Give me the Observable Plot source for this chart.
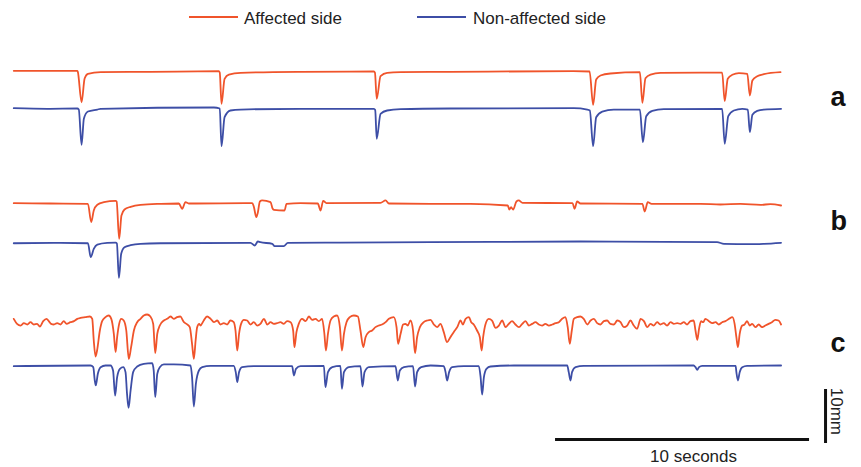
<!DOCTYPE html>
<html><head><meta charset="utf-8">
<script src="https://cdn.jsdelivr.net/npm/d3@7"></script>
<script src="https://cdn.jsdelivr.net/npm/@observablehq/plot@0.6"></script>
<style>
body{margin:0;background:#fff;font-family:"Liberation Sans",Arial,Helvetica,sans-serif;}
#wrap{width:861px;}
#legend{position:relative;height:32px;}
.sw{position:absolute;top:15.5px;height:2.6px;width:49px;}
.lt{position:absolute;top:10px;font-size:17px;line-height:17px;color:#222;white-space:nowrap;}
</style></head><body>
<div id="wrap"><div id="legend"></div><div id="chart"></div></div>
<script>
// ---- data: time (s), lid displacement (mm, 0 = trace baseline) ----
const groups = ["a", "b", "c"];
const sides = ["Affected side", "Non-affected side"];
const sideColors = ["#f0542b", "#3d4ea6"];
const scaleBarSeconds = 10;
const scaleBarMm = 10;
const scaleBarLabels = ["10 seconds", "10mm"];

const aAffected = [[0.01,0.13],[2.51,0.13],[2.53,0],[2.68,-5.69],[2.80,-1.30],[2.93,-0.43],[3.43,-0.13],[5.39,-0.06],[8.08,0.06],[8.12,-0.19],[8.19,-5.98],[8.31,-1.35],[8.48,-0.56],[8.94,-0.24],[11.30,-0.06],[14.19,0],[14.23,-0.19],[14.30,-5.06],[14.45,-0.87],[14.71,-0.24],[15.24,-0.13],[17.20,-0.06],[22.05,0.06],[22.68,0],[22.82,-6.17],[22.94,-1.48],[23.11,-0.74],[23.50,-0.37],[24.66,-0.13],[24.76,-5.80],[24.88,-1.24],[25.08,-0.56],[25.47,-0.24],[27.05,-0.19],[27.90,-0.19],[28.00,-5.50],[28.12,-1.35],[28.30,-0.61],[28.56,-0.31],[28.89,-0.43],[28.99,-4.44],[29.09,-1.67],[29.28,-0.87],[29.54,-0.50],[30.20,-0.13]];

const aNonAffected = [[0.01,0.06],[1.33,-0.06],[2.51,0],[2.57,-0.19],[2.68,-6.72],[2.77,-1.91],[2.93,-0.56],[3.30,-0.19],[3.43,-0.06],[7.89,0.19],[8.12,0],[8.19,-6.98],[8.31,-1.61],[8.54,-0.37],[8.94,-0.19],[11.30,-0.06],[14.19,-0.06],[14.24,-0.28],[14.30,-5.61],[14.45,-0.98],[14.71,-0.37],[15.24,-0.13],[17.20,0],[22.06,0.06],[22.59,-0.19],[22.69,-0.37],[22.82,-6.98],[22.94,-1.61],[23.18,-0.56],[23.63,-0.19],[24.66,-0.19],[24.78,-6.24],[24.91,-1.43],[25.15,-0.43],[25.60,-0.13],[27.90,-0.06],[28.00,-6.54],[28.14,-1.43],[28.36,-0.37],[28.69,-0.06],[28.91,-0.19],[28.99,-4.39],[29.09,-1.17],[29.28,-0.43],[29.54,-0.19],[30.22,-0.06]];

const bAffected = [[0.01,0.06],[1.46,0],[2.93,-0.06],[3.06,-3.46],[3.16,-1.30],[3.30,-0.24],[3.56,0.24],[4.02,0.50],[4.06,0.37],[4.16,-6.54],[4.25,-2.22],[4.37,-1.11],[4.61,-0.61],[5.00,-0.24],[5.79,-0.06],[6.51,0],[6.64,-0.98],[6.77,0.24],[6.90,0],[9.40,0.06],[9.46,-0.56],[9.56,-2.54],[9.62,-1.67],[9.70,0.37],[9.79,0.56],[10.12,0.24],[10.20,-0.93],[10.25,-1.17],[10.67,-1.30],[10.75,-0.06],[11.30,0.06],[11.98,0],[12.09,-1.30],[12.19,0.50],[12.32,0.06],[14.45,0.13],[14.65,0.56],[14.78,0],[16.42,-0.06],[17.99,-0.06],[19.46,-0.37],[19.52,-1.11],[19.59,-0.69],[19.67,-1.11],[19.80,0.37],[19.89,0.56],[20.04,0.13],[22.01,0.06],[22.09,-0.98],[22.19,0.37],[22.32,0],[24.76,-0.06],[24.85,-1.48],[24.97,0.24],[25.12,-0.06],[27.05,-0.06],[27.83,-0.19],[28.62,-0.06],[29.41,-0.24],[29.80,-0.13],[30.22,-0.37]];

const bNonAffected = [[0.01,-0.04],[1.85,0.04],[2.93,-0.04],[3.04,-2.63],[3.16,-1.07],[3.30,-0.28],[3.69,0.04],[4.02,0.09],[4.07,-0.09],[4.15,-6.44],[4.24,-2.00],[4.37,-0.78],[4.61,-0.41],[5.00,-0.15],[5.79,-0.04],[9.33,0.04],[9.50,-0.46],[9.62,0.28],[9.72,0.15],[10.19,-0.15],[10.28,-0.59],[10.64,-0.59],[10.80,0.04],[12.87,0.09],[16.42,0.15],[22.32,0.28],[27.70,0.15],[27.97,-0.15],[29.02,-0.22],[29.54,-0.15],[30.22,0.04]];

const cAffected = [[0.01,0.68],[0.14,-0.25],[0.28,-0.56],[0.41,-0.12],[0.54,-0.37],[0.67,0.06],[0.80,-0.37],[0.93,-0.25],[1.04,-0.74],[1.17,0.25],[1.30,0.68],[1.39,0.25],[1.48,-0.25],[1.59,-0.37],[1.72,-0.12],[1.85,-0.37],[1.98,0.25],[2.09,-0.25],[2.24,0.06],[2.38,0.25],[2.51,0.68],[2.64,0.86],[2.83,0.99],[3.01,1.11],[3.10,0.68],[3.16,-3.33],[3.23,-6.30],[3.29,-5.19],[3.40,-1.48],[3.49,0.25],[3.62,0.99],[3.75,1.30],[3.85,0.68],[3.95,-2.10],[4.02,-5.49],[4.08,-2.72],[4.16,-0.25],[4.24,0.68],[4.34,0.37],[4.44,-1.48],[4.54,-6.73],[4.63,-4.57],[4.74,-1.48],[4.87,0.06],[5.00,0.68],[5.13,1.30],[5.26,1.48],[5.39,1.11],[5.50,-0.25],[5.58,-5.68],[5.66,-2.10],[5.76,-0.56],[5.92,0.37],[6.05,0.68],[6.18,1.11],[6.31,0.68],[6.44,0.99],[6.57,1.11],[6.71,0.06],[6.81,-0.25],[6.94,-0.86],[7.03,-3.95],[7.10,-6.73],[7.17,-3.33],[7.23,-0.86],[7.31,-0.25],[7.36,-0.56],[7.49,0.37],[7.62,1.11],[7.76,0.68],[7.89,0.06],[8.02,0.37],[8.15,-0.37],[8.28,-0.12],[8.41,-0.37],[8.54,0.37],[8.67,0.06],[8.74,-1.48],[8.81,-5.19],[8.88,-2.10],[8.96,-0.25],[9.07,0.49],[9.20,0.37],[9.33,-0.37],[9.46,0.06],[9.59,-0.56],[9.72,-0.25],[9.86,0.68],[9.99,-0.37],[10.12,0.06],[10.25,-0.25],[10.38,-0.12],[10.51,0.06],[10.64,-0.25],[10.77,0.25],[10.91,0.06],[11.01,-1.48],[11.06,-4.57],[11.14,-1.79],[11.23,-0.25],[11.36,0.68],[11.50,0.25],[11.63,1.11],[11.76,0.49],[11.89,0.68],[12.02,0.25],[12.15,0.68],[12.24,-2.10],[12.30,-5.19],[12.38,-2.10],[12.48,0.37],[12.61,1.11],[12.74,1.30],[12.85,-0.86],[12.93,-5.19],[13.01,-2.10],[13.11,0.06],[13.24,0.99],[13.40,1.30],[13.56,1.11],[13.66,-1.48],[13.77,-4.57],[13.86,-2.72],[13.99,-1.79],[14.12,-1.48],[14.25,-0.86],[14.38,-0.56],[14.51,-0.37],[14.65,0.06],[14.78,0.68],[14.97,0.99],[15.08,-0.86],[15.14,-3.95],[15.24,-2.10],[15.34,-0.37],[15.43,-0.25],[15.52,-0.56],[15.63,0.37],[15.73,-1.48],[15.81,-5.68],[15.89,-2.72],[16.00,-0.86],[16.15,0.06],[16.29,0.37],[16.42,0.50],[16.55,-0.37],[16.68,-0.86],[16.81,-0.25],[16.94,-1.79],[17.07,-3.64],[17.20,-2.72],[17.33,-1.79],[17.47,-0.86],[17.60,0.37],[17.69,-0.37],[17.80,0.68],[17.93,0.99],[18.02,0.06],[18.12,-0.37],[18.25,-1.48],[18.36,-2.72],[18.43,-5.19],[18.49,-2.72],[18.58,-0.37],[18.71,0.68],[18.84,0.37],[18.98,-0.99],[19.11,-0.56],[19.24,0.37],[19.37,-0.86],[19.50,-0.25],[19.63,0.25],[19.76,-0.37],[19.90,-0.86],[20.03,-0.25],[20.16,0.25],[20.29,-0.56],[20.42,-0.25],[20.55,0.06],[20.68,-0.37],[20.81,-0.56],[20.94,-0.25],[21.08,-0.56],[21.21,-0.37],[21.34,-0.12],[21.47,0.06],[21.60,0.68],[21.73,0.99],[21.82,-0.86],[21.90,-3.95],[21.98,-1.48],[22.06,0.68],[22.19,0.99],[22.32,1.11],[22.45,0.68],[22.59,-0.37],[22.72,0.37],[22.85,0.68],[22.98,-0.12],[23.11,-0.37],[23.24,0.25],[23.37,0.37],[23.50,-0.25],[23.64,-0.37],[23.77,0.37],[23.90,0.06],[24.03,-0.86],[24.16,-0.56],[24.29,0.37],[24.42,-0.56],[24.55,-1.17],[24.69,0.68],[24.82,0.25],[24.95,-0.86],[25.08,-0.25],[25.21,-0.56],[25.34,0.06],[25.47,-0.37],[25.60,-0.12],[25.73,-0.56],[25.87,0.06],[26.00,-0.25],[26.13,-0.12],[26.26,-0.25],[26.39,0.06],[26.52,-0.37],[26.65,0.25],[26.78,0.37],[26.85,-1.48],[26.92,-3.21],[26.99,-1.17],[27.07,0.25],[27.15,0.06],[27.24,0.68],[27.38,0.25],[27.51,-0.12],[27.64,0.06],[27.77,-0.37],[27.90,0.06],[28.03,0.25],[28.17,0.68],[28.30,0.99],[28.39,-0.25],[28.46,-2.72],[28.52,-4.57],[28.59,-2.10],[28.69,-0.56],[28.78,-0.37],[28.88,0.25],[28.99,-0.56],[29.08,-0.25],[29.21,-0.86],[29.34,-0.37],[29.47,-0.86],[29.60,-0.56],[29.73,-0.25],[29.86,0.06],[29.99,0.49],[30.12,0.37],[30.22,-0.37]];

const cNonAffected = [[0.01,-0.12],[3.03,0],[3.14,-0.31],[3.20,-2.78],[3.24,-3.70],[3.32,-1.54],[3.43,-0.31],[3.62,0],[3.82,0],[3.92,-0.93],[4.00,-5.56],[4.08,-2.16],[4.19,-0.62],[4.32,-0.31],[4.41,-1.23],[4.47,-5.25],[4.53,-7.84],[4.61,-4.63],[4.71,-1.23],[4.87,-0.19],[5.13,0.31],[5.46,0.43],[5.52,-0.93],[5.58,-5.86],[5.66,-1.54],[5.76,-0.31],[5.92,0.19],[6.31,0.19],[6.97,0],[7.03,-2.16],[7.10,-7.59],[7.18,-3.40],[7.30,-0.93],[7.43,-0.31],[7.76,-0.06],[8.67,-0.06],[8.75,-1.23],[8.81,-3.09],[8.88,-1.23],[9.00,-0.31],[9.46,-0.12],[10.97,-0.12],[11.04,-1.85],[11.12,-0.62],[11.30,-0.12],[12.22,-0.06],[12.28,-4.01],[12.38,-1.23],[12.55,-0.31],[12.87,-0.06],[12.93,-4.32],[13.01,-1.23],[13.20,-0.31],[13.66,-0.12],[13.74,-3.89],[13.82,-1.23],[13.99,-0.31],[15.04,-0.12],[15.13,-2.78],[15.21,-0.93],[15.37,-0.31],[15.73,-0.12],[15.81,-3.89],[15.89,-1.23],[16.05,-0.31],[16.42,0],[16.94,-0.12],[17.01,-1.23],[17.07,-2.78],[17.15,-1.23],[17.27,-0.31],[17.73,-0.12],[18.32,-0.12],[18.39,-2.16],[18.45,-5.37],[18.52,-2.16],[18.62,-0.62],[18.78,-0.19],[19.70,0],[21.80,0],[21.86,-1.23],[21.93,-2.78],[21.99,-1.23],[22.13,-0.31],[22.45,-0.06],[26.78,0],[26.85,-0.31],[26.92,-0.80],[26.99,-0.31],[27.11,-0.06],[28.43,-0.06],[28.46,-1.23],[28.52,-2.78],[28.59,-1.23],[28.69,-0.31],[28.88,-0.06],[30.22,0]];

// ---- layout (positions in scale units) ----
const layout = {
  width: 861, height: 435, marginLeft: 13,
  pxPerSecond: 25.4, pxPerMm: 5.4,
  baseline: {a: [73.33, 66.48], b: [48.89, 41.57], c: [26.85, 18.89]},
  labelBaseline: {a: 66.94, b: 43.89, c: 21.30},
  labelT: 32.17,
  hbar: {t0: 21.34, y: 5.19},
  vbar: {t: 31.97, y0: 4.44}
};

const series = {a: [aAffected, aNonAffected], b: [bAffected, bNonAffected], c: [cAffected, cNonAffected]};
const rows = [];
for (const g of groups) {
  sides.forEach((s, i) => {
    for (const [t, v] of series[g][i]) rows.push({group: g, side: s, key: g + i, t, y: layout.baseline[g][i] + v});
  });
}

// legend
const legend = document.getElementById("legend");
const legendPos = [[189, 244], [416.5, 473]];
sides.forEach((s, i) => {
  const sw = document.createElement("div");
  sw.className = "sw"; sw.style.left = legendPos[i][0] + "px"; sw.style.background = sideColors[i];
  const lt = document.createElement("div");
  lt.className = "lt"; lt.style.left = legendPos[i][1] + "px"; lt.textContent = s;
  legend.append(sw, lt);
});

const L = layout;
const hbar = [{x1: L.hbar.t0, x2: L.hbar.t0 + scaleBarSeconds, y: L.hbar.y}];
const vbar = [{x: L.vbar.t, y1: L.vbar.y0, y2: L.vbar.y0 + scaleBarMm}];

const chart = Plot.plot({
  width: L.width, height: L.height,
  marginLeft: L.marginLeft, marginRight: 0, marginTop: 0, marginBottom: 0,
  style: {fontFamily: "'Liberation Sans', Arial, Helvetica, sans-serif", background: "#fff"},
  x: {domain: [0, (L.width - L.marginLeft) / L.pxPerSecond], axis: null},
  y: {domain: [0, L.height / L.pxPerMm], axis: null},
  color: {domain: sides, range: sideColors},
  marks: [
    Plot.line(rows, {x: "t", y: "y", z: "key", stroke: "side", curve: "monotone-x", strokeWidth: 1.8, strokeLinejoin: "round", strokeLinecap: "round"}),
    Plot.text(groups, {x: () => L.labelT, y: g => L.labelBaseline[g], text: d => d, textAnchor: "start", lineAnchor: "bottom", fontSize: 27, fontWeight: "bold", fill: "#111"}),
    Plot.ruleY(hbar, {x1: "x1", x2: "x2", y: "y", stroke: "#111", strokeWidth: 3}),
    Plot.ruleX(vbar, {x: "x", y1: "y1", y2: "y2", stroke: "#111", strokeWidth: 3}),
    Plot.text([scaleBarLabels[0]], {x: () => L.hbar.t0 + scaleBarSeconds / 2 + 11 / L.pxPerSecond, y: () => L.hbar.y - 22.5 / L.pxPerMm, text: d => d, textAnchor: "middle", lineAnchor: "bottom", fontSize: 17, fill: "#222"}),
    Plot.text([scaleBarLabels[1]], {x: () => L.vbar.t + 5 / L.pxPerSecond, y: () => L.vbar.y0 + scaleBarMm / 2 + 0.96, text: d => d, rotate: 90, textAnchor: "middle", lineAnchor: "bottom", fontSize: 17, fill: "#222"})
  ]
});
document.getElementById("chart").append(chart);
</script>
</body></html>
